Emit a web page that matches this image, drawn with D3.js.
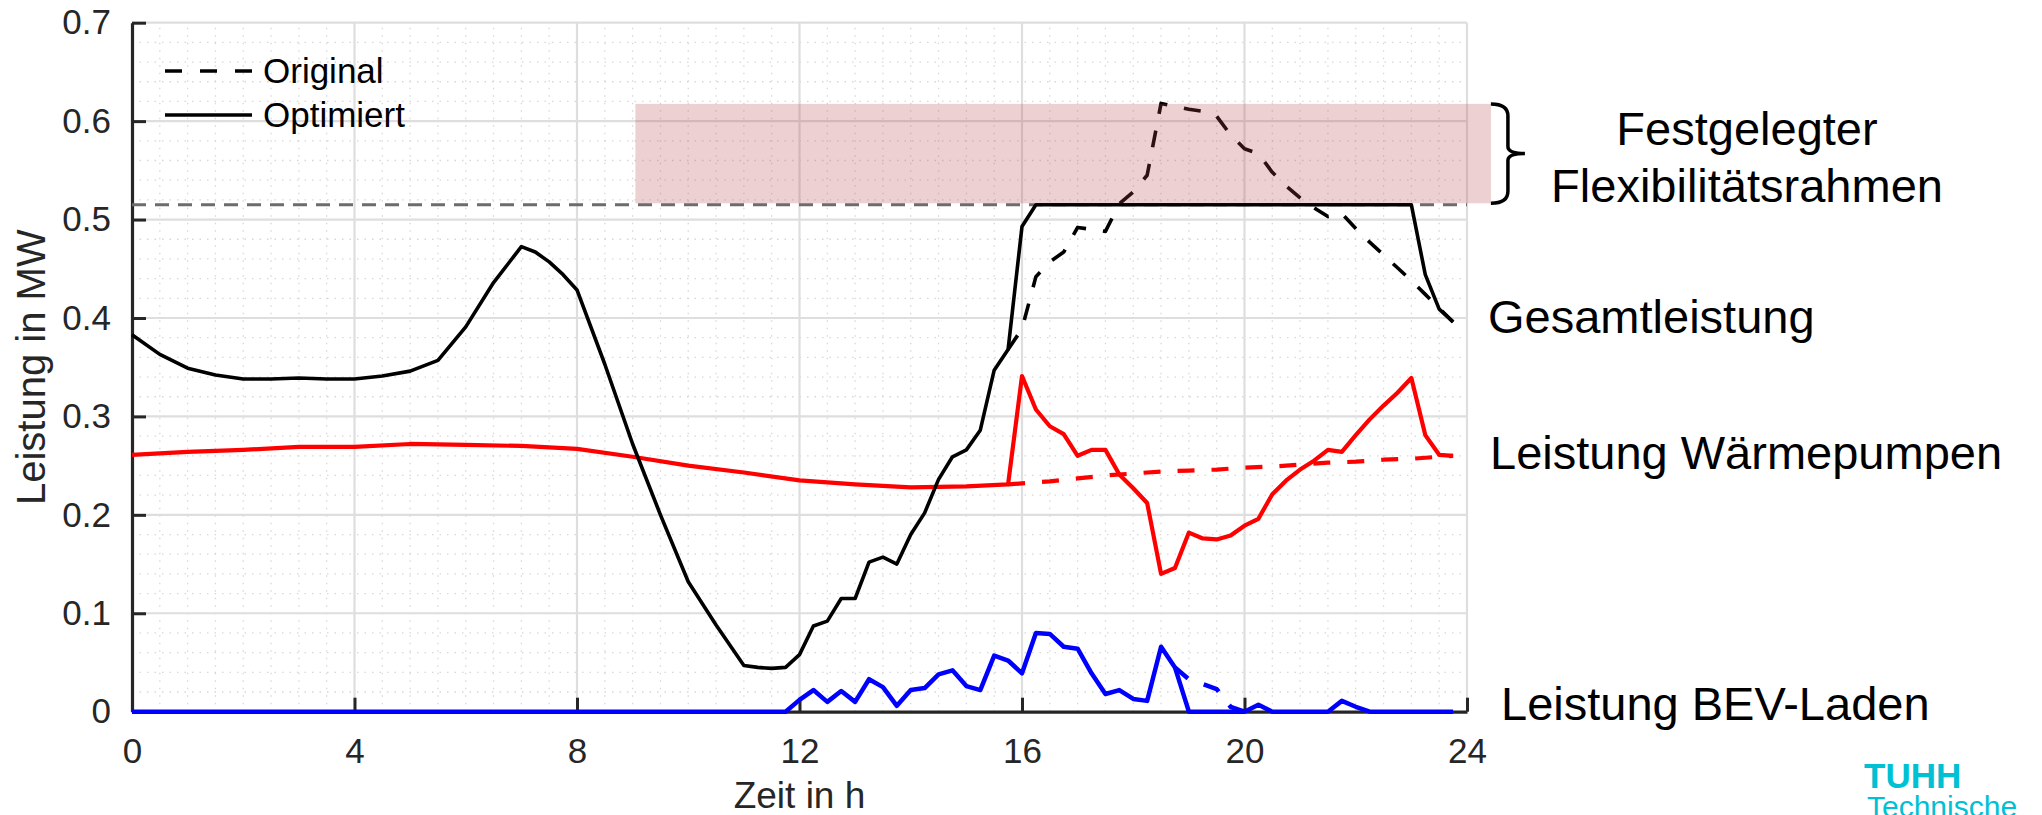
<!DOCTYPE html>
<html><head><meta charset="utf-8">
<script src="https://cdn.jsdelivr.net/npm/d3@7"></script>
<style>
body{margin:0;background:#fff}
svg{display:block}
text{font-family:"Liberation Sans",Arial,Helvetica,sans-serif}
</style>
</head><body>
<svg id="chart" width="2042" height="815"></svg>
<script>
// ---------------- data ----------------
const xTicks = [0, 4, 8, 12, 16, 20, 24];
const xTickLabels = ["0", "4", "8", "12", "16", "20", "24"];
const yTicks = [0, 0.1, 0.2, 0.3, 0.4, 0.5, 0.6, 0.7];
const yTickLabels = ["0", "0.1", "0.2", "0.3", "0.4", "0.5", "0.6", "0.7"];

// Gesamtleistung (optimiert), [Stunde, MW]
const gesamtOptimiert = [
  [0,0.383],[0.5,0.363],[1,0.349],[1.5,0.342],[2,0.338],[2.5,0.338],[3,0.339],[3.5,0.338],
  [4,0.338],[4.5,0.341],[5,0.346],[5.5,0.357],[6,0.391],[6.5,0.436],[7,0.4725],[7.25,0.467],
  [7.5,0.457],[7.75,0.444],[8,0.4285],[8.5,0.353],[9,0.272],[9.5,0.200],[10,0.132],[10.5,0.088],
  [11,0.047],[11.25,0.045],[11.5,0.044],[11.75,0.045],[12,0.058],[12.25,0.087],[12.5,0.092],
  [12.75,0.115],[13,0.115],[13.25,0.152],[13.5,0.157],[13.75,0.150],[14,0.180],[14.25,0.202],
  [14.5,0.236],[14.75,0.259],[15,0.266],[15.25,0.286],[15.5,0.347],[15.75,0.368],[16,0.493],
  [16.25,0.515],[23,0.515],[23.25,0.444],[23.5,0.409],[23.75,0.396]
];
// Gesamtleistung (original), ab Abweichung
const gesamtOriginal = [
  [15.75,0.368],[16,0.389],[16.25,0.442],[16.5,0.457],[16.75,0.467],[17,0.492],[17.25,0.490],
  [17.5,0.488],[17.75,0.516],[18,0.528],[18.25,0.545],[18.5,0.618],[18.75,0.615],[19,0.612],
  [19.25,0.610],[19.5,0.605],[19.75,0.586],[20,0.572],[20.25,0.567],[20.5,0.548],[20.75,0.534],
  [21,0.522],[21.25,0.512],[21.5,0.503],[21.75,0.506],[22,0.491],[22.25,0.477],[22.5,0.464],
  [22.75,0.451],[23,0.438],[23.25,0.424],[23.5,0.410],[23.75,0.396]
];
// Leistung Wärmepumpen (optimiert)
const wpOptimiert = [
  [0,0.261],[1,0.264],[2,0.266],[3,0.269],[4,0.269],[5,0.272],[6,0.271],[7,0.270],[8,0.267],
  [9,0.259],[10,0.250],[11,0.243],[12,0.235],[13,0.231],[14,0.228],[15,0.229],[15.75,0.231],
  [16,0.341],[16.25,0.307],[16.5,0.290],[16.75,0.282],[17,0.260],[17.25,0.266],[17.5,0.266],
  [17.75,0.241],[18,0.227],[18.25,0.212],[18.5,0.140],[18.75,0.146],[19,0.182],[19.25,0.176],
  [19.5,0.175],[19.75,0.179],[20,0.189],[20.25,0.196],[20.5,0.221],[20.75,0.235],[21,0.246],
  [21.25,0.255],[21.5,0.266],[21.75,0.264],[22,0.281],[22.25,0.297],[22.5,0.311],[22.75,0.324],
  [23,0.339],[23.25,0.281],[23.5,0.261],[23.75,0.260]
];
// Leistung Wärmepumpen (original), ab Abweichung
const wpOriginal = [
  [15.75,0.231],[16,0.232],[16.5,0.234],[17,0.237],[17.5,0.240],[18,0.242],[18.5,0.244],
  [19,0.245],[19.5,0.246],[20,0.248],[20.5,0.249],[21,0.251],[21.5,0.253],[22,0.254],
  [22.5,0.256],[23,0.257],[23.5,0.259],[23.75,0.260]
];
// Leistung BEV-Laden (optimiert)
const bevOptimiert = [
  [0,0],[11.75,0],[12,0.012],[12.25,0.022],[12.5,0.010],[12.75,0.021],[13,0.010],[13.25,0.033],
  [13.5,0.025],[13.75,0.006],[14,0.022],[14.25,0.024],[14.5,0.038],[14.75,0.042],[15,0.026],
  [15.25,0.022],[15.5,0.057],[15.75,0.052],[16,0.039],[16.25,0.080],[16.5,0.079],[16.75,0.066],
  [17,0.064],[17.25,0.039],[17.5,0.018],[17.75,0.022],[18,0.013],[18.25,0.011],[18.5,0.066],
  [18.75,0.045],[19,0],[20,0],[20.25,0.007],[20.5,0],[21.5,0],[21.75,0.011],[22,0.005],
  [22.25,0],[23.75,0]
];
// Leistung BEV-Laden (original), ab Abweichung
const bevOriginal = [
  [18.75,0.045],[19,0.033],[19.25,0.028],[19.5,0.023],[19.75,0.005],[20,0]
];
// Flexibilitätsrahmen
const flexStart = 9.05, flexEnd = 24.43, flexLow = 0.5165, flexHigh = 0.6175;
const limitValue = 0.515;

const legendLabels = ["Original", "Optimiert"];
const annotations = ["Gesamtleistung", "Leistung Wärmepumpen", "Leistung BEV-Laden"];
const flexLabel = ["Festgelegter", "Flexibilitätsrahmen"];

// ---------------- drawing ----------------
const svg = d3.select("#chart");
const x = d3.scaleLinear().domain([0, 24]).range([132, 1467]);
const y = d3.scaleLinear().domain([0, 0.7]).range([711.7, 22.7]);
const axisColor = "#262626";
const narrow = '"Liberation Sans Narrow","Arial Narrow","Liberation Sans",Arial,sans-serif';

// minor dotted grid
const gMinor = svg.append("g");
gMinor.selectAll("line.mx").data(d3.range(0, 48).map(i => i * 0.5).filter(v => v % 4 !== 0))
  .join("line").attr("x1", d => x(d)).attr("x2", d => x(d)).attr("y1", y(0)).attr("y2", y(0.7))
  .attr("stroke", "#d8d8d8").attr("stroke-width", 1.3).attr("stroke-dasharray", "1.5,6");
gMinor.selectAll("line.my").data(d3.range(0, 35).map(i => i * 0.02).filter((v, i) => i % 5 !== 0))
  .join("line").attr("x1", x(0)).attr("x2", x(24)).attr("y1", d => y(d)).attr("y2", d => y(d))
  .attr("stroke", "#d8d8d8").attr("stroke-width", 1.3).attr("stroke-dasharray", "1.5,6");

// major grid
const gGrid = svg.append("g");
gGrid.selectAll("line.gx").data(xTicks.slice(1)).join("line")
  .attr("x1", d => x(d)).attr("x2", d => x(d)).attr("y1", y(0)).attr("y2", y(0.7))
  .attr("stroke", "#dedede").attr("stroke-width", 2.2);
gGrid.selectAll("line.gy").data(yTicks.slice(1)).join("line")
  .attr("x1", x(0)).attr("x2", x(24)).attr("y1", d => y(d)).attr("y2", d => y(d))
  .attr("stroke", "#dedede").attr("stroke-width", 2.2);

// axes (drawn below data)
const xAxis = d3.axisBottom(x).tickValues(xTicks).tickFormat((d, i) => xTickLabels[i])
  .tickSizeInner(-14).tickSizeOuter(0).tickPadding(26);
const gx = svg.append("g").attr("transform", `translate(0,${y(0)})`).call(xAxis);
gx.select(".domain").attr("stroke", axisColor).attr("stroke-width", 3.2);
gx.selectAll(".tick line").attr("stroke", axisColor).attr("stroke-width", 3);
gx.selectAll(".tick text").attr("fill", axisColor).attr("font-size", 35)
  .attr("font-family", narrow).attr("dy", "0.71em");

const yAxis = d3.axisLeft(y).tickValues(yTicks).tickFormat((d, i) => yTickLabels[i])
  .tickSizeInner(-14).tickSizeOuter(0).tickPadding(21);
const gy = svg.append("g").attr("transform", `translate(${x(0)},0)`).call(yAxis);
gy.select(".domain").attr("stroke", axisColor).attr("stroke-width", 3.2);
gy.selectAll(".tick line").attr("stroke", axisColor).attr("stroke-width", 3);
gy.selectAll(".tick text").attr("fill", axisColor).attr("font-size", 35)
  .attr("font-family", narrow);

// axis labels
svg.append("text").attr("x", x(12)).attr("y", 808).attr("text-anchor", "middle")
  .attr("font-size", 37).attr("fill", axisColor).text("Zeit in h");
svg.append("text").attr("transform", `translate(45,${y(0.35)}) rotate(-90)`)
  .attr("text-anchor", "middle").attr("font-size", 40).attr("fill", axisColor).text("Leistung in MW");

// limit line
svg.append("line").attr("x1", x(0)).attr("x2", x(24)).attr("y1", y(limitValue)).attr("y2", y(limitValue))
  .attr("stroke", "#6c6c6c").attr("stroke-width", 3).attr("stroke-dasharray", "14,9");

// series
const line = d3.line().x(d => x(d[0])).y(d => y(d[1]));
const series = [
  {data: gesamtOriginal, color: "#000000", w: 3.6, dash: "17,17"},
  {data: wpOriginal, color: "#ff0000", w: 4.2, dash: "17,17"},
  {data: bevOriginal, color: "#0000ff", w: 4.5, dash: "17,17"},
  {data: wpOptimiert, color: "#ff0000", w: 4.2, dash: null},
  {data: gesamtOptimiert, color: "#000000", w: 3.6, dash: null},
  {data: bevOptimiert, color: "#0000ff", w: 4.5, dash: null}
];
svg.append("g").selectAll("path").data(series).join("path")
  .attr("d", d => line(d.data)).attr("fill", "none")
  .attr("stroke", d => d.color).attr("stroke-width", d => d.w)
  .attr("stroke-dasharray", d => d.dash).attr("stroke-linejoin", "round");

// flexibility box (semi-transparent on top)
svg.append("rect").attr("x", x(flexStart)).attr("y", y(flexHigh))
  .attr("width", x(flexEnd) - x(flexStart)).attr("height", y(flexLow) - y(flexHigh))
  .attr("fill", "rgb(183,67,75)").attr("fill-opacity", 0.25);

// brace
const bx = x(flexEnd), bt = y(flexHigh), bb = y(flexLow), bm = (bt + bb) / 2;
svg.append("path")
  .attr("d", `M${bx},${bt} Q${bx + 17},${bt} ${bx + 17},${bt + 12} L${bx + 17},${bm - 7} Q${bx + 17},${bm} ${bx + 34},${bm}` +
             ` Q${bx + 17},${bm} ${bx + 17},${bm + 7} L${bx + 17},${bb - 12} Q${bx + 17},${bb} ${bx},${bb}`)
  .attr("fill", "none").attr("stroke", "#000").attr("stroke-width", 3.5);

// legend
const lg = svg.append("g");
[{lbl: legendLabels[0], dash: "17,18", yy: 71}, {lbl: legendLabels[1], dash: null, yy: 115}].forEach(o => {
  lg.append("line").attr("x1", 165).attr("x2", 252).attr("y1", o.yy).attr("y2", o.yy)
    .attr("stroke", "#000").attr("stroke-width", 3.6).attr("stroke-dasharray", o.dash);
  lg.append("text").attr("x", 263).attr("y", o.yy).attr("dy", "0.35em").attr("font-size", 35)
    .attr("fill", "#000").text(o.lbl);
});

// annotations
svg.append("text").attr("x", 1747).attr("y", 145).attr("text-anchor", "middle").attr("font-size", 47).text(flexLabel[0]);
svg.append("text").attr("x", 1747).attr("y", 202).attr("text-anchor", "middle").attr("font-size", 47).text(flexLabel[1]);
svg.append("text").attr("x", 1488).attr("y", 333).attr("font-size", 47).text(annotations[0]);
svg.append("text").attr("x", 1490).attr("y", 469).attr("font-size", 47).text(annotations[1]);
svg.append("text").attr("x", 1501).attr("y", 720).attr("font-size", 47).text(annotations[2]);

// logo text
svg.append("text").attr("x", 1864).attr("y", 788).attr("font-size", 35).attr("font-weight", "bold")
  .attr("fill", "#00c0d4").text("TUHH");
svg.append("text").attr("x", 1867).attr("y", 817).attr("font-size", 30)
  .attr("fill", "#00c0d4").text("Technische");
</script>
</body></html>
